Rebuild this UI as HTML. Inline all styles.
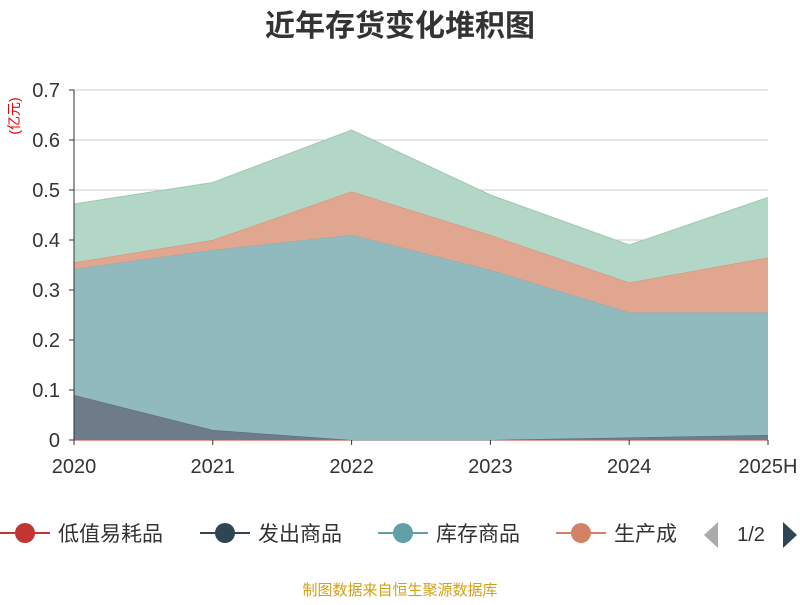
<!DOCTYPE html>
<html><head><meta charset="utf-8"><style>
body{margin:0;background:#fff;font-family:"Liberation Sans","Noto Sans CJK SC",sans-serif}
</style></head><body>
<svg id="c" width="800" height="600" xmlns="http://www.w3.org/2000/svg" style="font-family:'Liberation Sans','Noto Sans CJK SC',sans-serif">
<text x="400" y="36" text-anchor="middle" font-size="30" font-weight="bold" fill="#333">近年存货变化堆积图</text>
<text transform="translate(19,116) rotate(-90)" text-anchor="middle" font-size="14" fill="#e00">(亿元)</text>
<g id="grid"></g><g id="areas"></g><g id="axes"></g>
<g id="legend"></g>
<text x="400" y="595" text-anchor="middle" font-size="15" fill="#d4a017">制图数据来自恒生聚源数据库</text>
</svg>
<script>
const categories=["2020","2021","2022","2023","2024","2025H"];
const yTicks=[0,0.1,0.2,0.3,0.4,0.5,0.6,0.7];
const seriesNames=["低值易耗品","发出商品","库存商品","生产成本","其他"];
const lowValue=[0,0,0,0,0,0];
const shipped=[0.09,0.02,0,0,0.005,0.01];
const inventory=[0.252,0.36,0.41,0.34,0.25,0.245];
const production=[0.013,0.02,0.087,0.07,0.06,0.11];
const other=[0.117,0.115,0.123,0.08,0.075,0.12];
const fills=["#c23531","#6e7b88","#91babf","#e0a68f","#b3d7c6"];
const strokes=["#c23531","#5a6773","#7fb0b5","#d98c72","#9ec9b4"];
const legendColors=["#c23531","#2f4554","#61a0a8","#d48265"];
const ns="http://www.w3.org/2000/svg";
const X0=74,X1=768,Y0=440,Yscale=500;
const x=i=>X0+i*(X1-X0)/(categories.length-1);
const y=v=>Y0-v*Yscale;
function mk(t,a,p){const e=document.createElementNS(ns,t);for(const k in a)e.setAttribute(k,a[k]);p.appendChild(e);return e;}
const grid=document.getElementById('grid'),axes=document.getElementById('axes'),areas=document.getElementById('areas'),leg=document.getElementById('legend');
yTicks.forEach(v=>{
 const l=mk('line',{x1:X0,x2:X1,y1:y(v),y2:y(v),stroke:v===0?'#333':'#ccc'},grid);
 
 const t=mk('text',{x:X0-14,y:y(v)+7,'text-anchor':'end','font-size':20,fill:'#333'},axes);
 t.textContent=String(v);
 mk('line',{x1:X0-5,x2:X0,y1:y(v),y2:y(v),stroke:'#333'},axes);
});
mk('line',{x1:X0,x2:X0,y1:y(0.7),y2:Y0,stroke:'#333'},axes);
categories.forEach((c,i)=>{
 const t=mk('text',{x:x(i),y:Y0+33,'text-anchor':'middle','font-size':20,fill:'#333'},axes);
 t.textContent=c;
 mk('line',{x1:x(i),x2:x(i),y1:Y0,y2:Y0+5,stroke:'#333'},axes);
});
const series=[lowValue,shipped,inventory,production,other];
let base=categories.map(()=>0);
series.forEach((s,k)=>{
 const top=base.map((b,i)=>b+s[i]);
 let d='M'+top.map((v,i)=>x(i)+','+y(v)).join(' L');
 for(let i=categories.length-1;i>=0;i--)d+=' L'+x(i)+','+y(base[i]);
 const p=mk('path',{d:d+'Z',fill:fills[k],'fill-opacity':k===0?0:1},areas);
 
 const ln=mk('polyline',{points:top.map((v,i)=>x(i)+','+y(v)).join(' '),fill:'none',stroke:strokes[k],'stroke-width':1},areas);
 
 base=top;
});
const lx=[0,200,378,556];
["低值易耗品","发出商品","库存商品","生产成"].forEach((n,i)=>{
 const g=mk('g',{},leg);
 mk('line',{x1:lx[i],x2:lx[i]+50,y1:533,y2:533,stroke:legendColors[i],'stroke-width':2},g);
 mk('circle',{cx:lx[i]+25,cy:533,r:10,fill:legendColors[i]},g);
 const t=mk('text',{x:lx[i]+58,y:541,'font-size':21,fill:'#333'},g);t.textContent=n;
});
const pl=mk('path',{d:'M718,522 L704,535 L718,548Z',fill:'#aaa'},leg);
const pt=mk('text',{x:751,y:541,'text-anchor':'middle','font-size':20,fill:'#333'},leg);pt.textContent='1/2';
const pn=mk('path',{d:'M783,522 L797,535 L783,548Z',fill:'#2f4554'},leg);
</script>
</body></html>
